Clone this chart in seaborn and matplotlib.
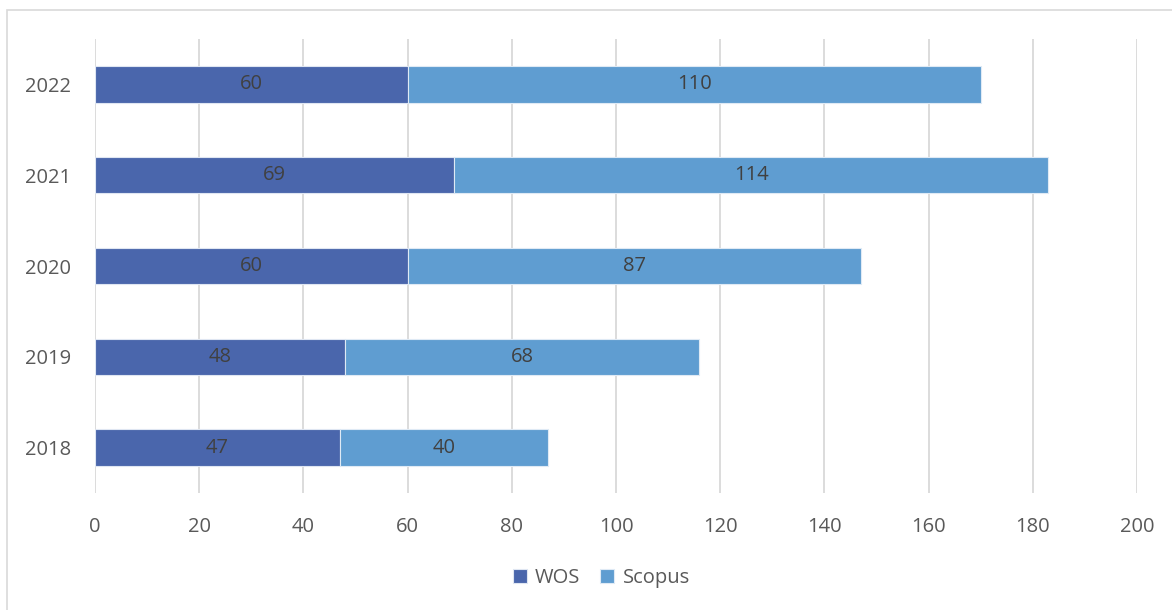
import matplotlib
matplotlib.use("Agg")
import matplotlib.pyplot as plt
import seaborn as sns
import pandas as pd
from matplotlib.patches import Rectangle

years = ["2018", "2019", "2020", "2021", "2022"]
wos = [47, 48, 60, 69, 60]
scopus = [40, 68, 87, 114, 110]
x_ticks = [0, 20, 40, 60, 80, 100, 120, 140, 160, 180, 200]

df = pd.DataFrame({"year": years, "WOS": wos, "Scopus": scopus})
order = years[::-1]

sns.set_theme(style="white")
plt.rcParams["font.family"] = ["Open Sans", "DejaVu Sans"]

fig = plt.figure(figsize=(11.72, 6.10), dpi=100)
ax = fig.add_axes([95 / 1172, 1 - 493 / 610, (1137 - 95) / 1172, (493 - 39) / 610])

c_wos = "#4A66AC"
c_sco = "#5F9DD1"
sns.barplot(data=df, y="year", x="WOS", order=order, color=c_wos, orient="h",
            width=0.4, ax=ax, label="WOS", edgecolor="#dfe6f2", linewidth=0.8,
            saturation=1, zorder=3)
sns.barplot(data=df, y="year", x="Scopus", order=order, color=c_sco, orient="h",
            width=0.4, ax=ax, label="Scopus", left=df.set_index("year").loc[order, "WOS"].values,
            edgecolor="#dfeaf5", linewidth=0.8, saturation=1, zorder=3)

for cont in ax.containers:
    ax.bar_label(cont, label_type="center", fontsize=14.5, color="#404040")

ax.set_xlim(0, 200)
ax.set_ylim(4.5, -0.5)
ax.set_xticks(x_ticks)
ax.set_xlabel("")
ax.set_ylabel("")
ax.grid(axis="x", color="#d9d9d9", linewidth=1.3, zorder=0)
ax.grid(axis="y", visible=False)
ax.set_axisbelow(True)
for s in ax.spines.values():
    s.set_visible(False)
ax.tick_params(axis="x", length=0, pad=17, labelsize=14.5, labelcolor="#595959")
ax.tick_params(axis="y", length=0, pad=17, labelsize=14.5, labelcolor="#595959")

handles, labels = ax.get_legend_handles_labels()
leg = fig.legend(handles, labels, loc="center", bbox_to_anchor=(0.513, 1 - 578 / 610),
                 ncol=2, frameon=False, fontsize=14.5, handlelength=0.7, handleheight=0.7,
                 handletextpad=0.4, columnspacing=1.0, labelcolor="#595959")
if ax.get_legend():
    ax.get_legend().remove()

fig.patches.append(Rectangle((7 / 1172, -0.05), 1.2, 1 - 9.5 / 610 + 0.05,
                             transform=fig.transFigure, fill=False,
                             edgecolor="#d9d9d9", linewidth=1.2))

fig.savefig("out.png", dpi=100)
